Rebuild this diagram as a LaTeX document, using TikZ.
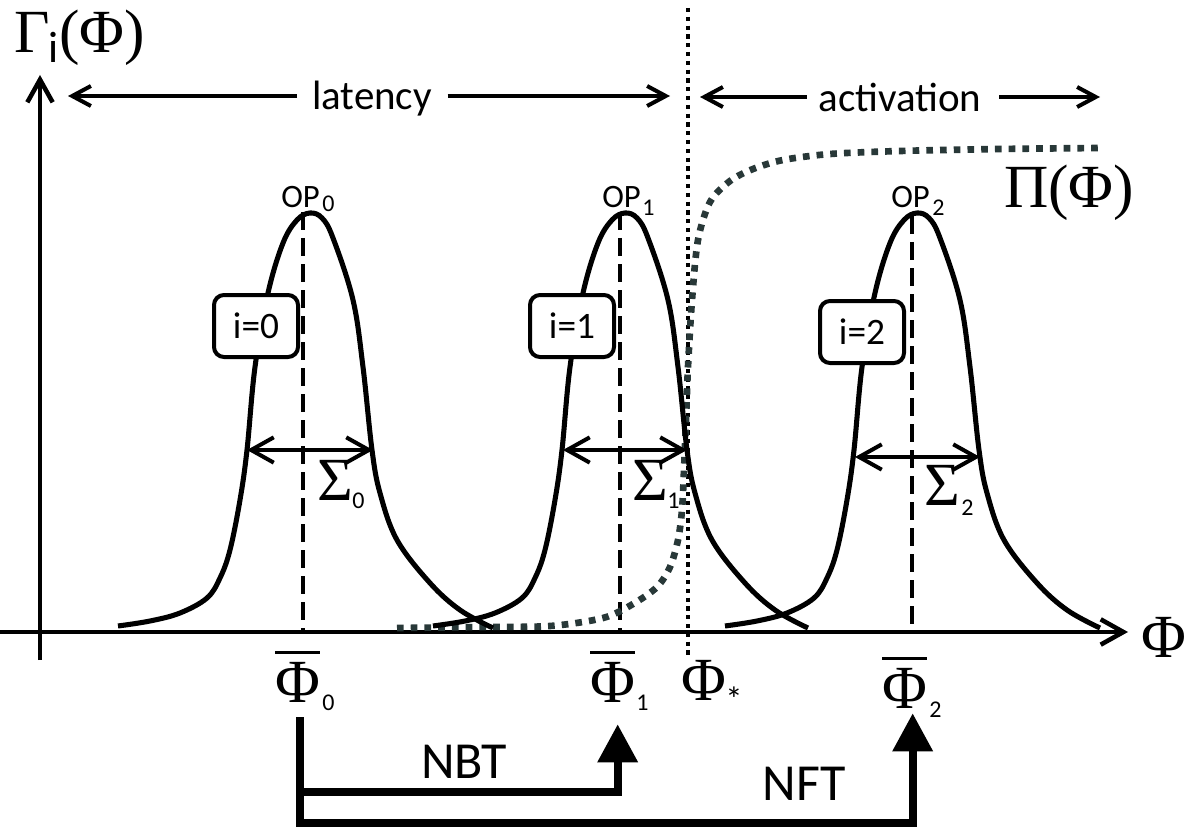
\documentclass[tikz,border=0pt]{standalone}
\usepackage{fontspec}
\setmainfont{Liberation Serif}
\newfontfamily\cbri{Carlito}
\usetikzlibrary{arrows.meta}
\definecolor{pidot}{RGB}{40,56,56}
\newcommand\obar[1]{\vbox{\hrule height 2.25pt\kern 6.2pt\hbox{#1}}}
\begin{document}
\begin{tikzpicture}[x=0.75pt,y=-0.75pt,
 greek/.style={font=\fontsize{46}{54}\selectfont, inner sep=0pt, anchor=base west},
 sublab/.style={font=\cbri\fontsize{18}{20}\selectfont, inner sep=0pt, anchor=base west},
 optxt/.style={font=\cbri\fontsize{24.5}{28}\selectfont, inner sep=0pt, anchor=base west},
 spantxt/.style={font=\cbri\fontsize{30.75}{36}\selectfont, inner sep=0pt, anchor=base},
 flowtxt/.style={font=\cbri\fontsize{39}{44}\selectfont, inner sep=0pt},
 ibox/.style={draw, line width=3pt, rounded corners=7.5pt, fill=white, minimum width=63pt, minimum height=46.5pt, inner sep=0pt, font=\cbri\fontsize{28}{30}\selectfont},
 axisarrow/.style={line width=3.4pt, -{Straight Barb[length=17pt,width=19pt]}},
 sigarrow/.style={line width=3pt, {Straight Barb[length=17pt,width=19pt]}-{Straight Barb[length=17pt,width=19pt]}},
 spanarrow/.style={line width=3pt, -{Straight Barb[length=14pt,width=15pt]}},
 flow/.style={line width=5.8pt, line join=miter, -{Triangle[length=28.5pt,width=29pt]}},
 bell/.style={line width=3.8pt},
 meanline/.style={line width=2.5pt, dash pattern=on 13.5pt off 6pt},
 critline/.style={line width=2.6pt, dash pattern=on 3.2pt off 3.4pt},
 pidots/.style={line width=5pt, pidot, dash pattern=on 5pt off 5.3pt},
]
\useasboundingbox[fill=white] (0,0) rectangle (1200,831);

% axes
\coordinate (yB) at (40,660);
\coordinate (yT) at (40,75);
\coordinate (xL) at (0,632);
\coordinate (xR) at (1128,632);
\draw[axisarrow] (yB) -- (yT);
\draw[axisarrow] (xL) -- (xR);

% critical line
\coordinate (cT) at (688,8);
\coordinate (cB) at (688,658);
\draw[critline] (cT) -- (cB);

% mean lines
\coordinate (m0t) at (303,212); \coordinate (m0b) at (303,632);
\coordinate (m1t) at (620,212); \coordinate (m1b) at (620,632);
\coordinate (m2t) at (912,216); \coordinate (m2b) at (912,632);
\draw[meanline] (m0t) -- (m0b);
\draw[meanline] (m1t) -- (m1b);
\draw[meanline] (m2t) -- (m2b);

% Pi curve
\draw[pidots] plot[smooth, tension=0.5] coordinates {(397,628) (480,627) (550,626) (603,618) (633,604) (657,587) (670,567) (678,540) (682,510) (684,470) (686,420) (688,367) (692,300) (698,240) (710,202) (730,181) (753,169) (783,160) (830,154) (900,151) (1000,149) (1102,148)};

% bells
\foreach \px in {310,625,917}{
\begin{scope}[shift={(\px,0)}]
\draw[bell] plot[smooth, tension=0.6] coordinates {(-192,626) (-160,621) (-130,613) (-103,598) (-90,578) (-80,550) (-70,500) (-63,450) (-55,367) (-42,293) (-27,243) (-13,220) (0,213) (12,218) (23,238) (43,300) (53,367) (62,450) (70,493) (87,540) (120,583) (150,610) (183,628)};
\end{scope}
}

% sigma arrows
\coordinate (w0l) at (247,450); \coordinate (w0r) at (373,450);
\coordinate (w1l) at (563,450); \coordinate (w1r) at (687,450);
\coordinate (w2l) at (855,457); \coordinate (w2r) at (980,457);
\draw[sigarrow] (w0l) -- (w0r);
\draw[sigarrow] (w1l) -- (w1r);
\draw[sigarrow] (w2l) -- (w2r);

% boxes
\node[ibox] (b0) at (256,326) {i=0};
\node[ibox] (b1) at (572,326) {i=1};
\node[ibox] (b2) at (862,332) {i=2};

% OP labels
\node[optxt] (op0) at (281,208) {OP};
\node[sublab] (op0i) at (322,212) {0};
\node[optxt] (op1) at (602,208) {OP};
\node[sublab] (op1i) at (642,215) {1};
\node[optxt] (op2) at (891,208) {OP};
\node[sublab] (op2i) at (932,215) {2};

% Sigma labels
\node[greek] (s0) at (317,500) {Σ};
\node[sublab] (s0i) at (352,508) {0};
\node[greek] (s1) at (632,500) {Σ};
\node[sublab] (s1i) at (667,508) {1};
\node[greek] (s2) at (924,505) {Σ};
\node[sublab] (s2i) at (961,515) {2};

% axis labels
\node[greek] (gam) at (14,53) {Γ};
\node[font=\cbri\fontsize{33}{36}\selectfont, inner sep=0pt, anchor=base west] (gami) at (48,63) {i};
\node[greek] (gamarg) at (59,53) {(Φ)};
\node[greek] (pilab) at (1004,208) {Π(Φ)};
\node[greek] (xlab) at (1141,657) {Φ};

% span labels
\node[spantxt] (lat) at (372,110) {latency};
\node[spantxt] (act) at (900,112) {activation};
\coordinate (latL) at (68,96); \coordinate (latR) at (670,96);
\coordinate (actL) at (700,97); \coordinate (actR) at (1100,97);
\draw[spanarrow, shorten <=11pt] (lat.west |- latL) -- (latL);
\draw[spanarrow, shorten <=11.6pt] (lat.east |- latR) -- (latR);
\draw[spanarrow, shorten <=8.6pt] (act.west |- actL) -- (actL);
\draw[spanarrow, shorten <=13pt] (act.east |- actR) -- (actR);

% mean labels
\node[greek] (pb0) at (275,702) {\obar{Φ}};
\node[sublab] (pb0i) at (322,710) {0};
\node[greek] (pb1) at (590,702) {\obar{Φ}};
\node[sublab] (pb1i) at (636,710) {1};
\node[greek] (pb2) at (882,708) {\obar{Φ}};
\node[sublab] (pb2i) at (929,717) {2};
\node[greek] (pst) at (681,700) {Φ};
\node[font=\cbri\fontsize{26}{28}\selectfont, inner sep=0pt] (psti) at (734,699) {*};

% transitions
\draw[flow] ([xshift=1.5pt,yshift=-11.25pt]pb0.south) -- ++(0,75) -| ([xshift=3.75pt,yshift=-16.5pt]pb1.south);
\draw[flow] ([xshift=1.5pt,yshift=-11.25pt]pb0.south) -- ++(0,106) -| ([xshift=6pt,yshift=-3.75pt]pb2.south);
\node[flowtxt] (nbt) at (464,762) {NBT};
\node[flowtxt] (nft) at (804,784) {NFT};
\end{tikzpicture}
\end{document}
